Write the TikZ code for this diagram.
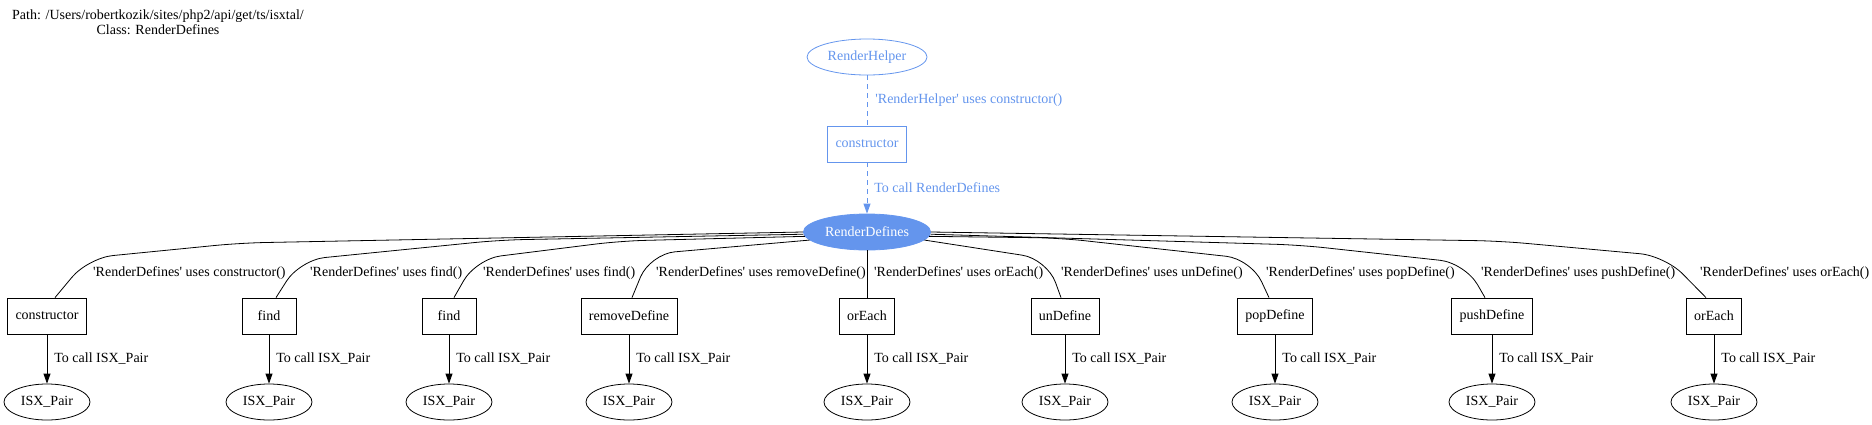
\documentclass[tikz,border=0pt]{standalone}
\usepackage{fontspec}
\setmainfont{Liberation Serif}
\usetikzlibrary{arrows.meta,positioning,shapes.geometric}
\definecolor{rdblue}{HTML}{6495ED}
\newcommand{\sq}{\textquotesingle}
\tikzset{
  fn/.style={draw, rectangle, minimum width=54pt, minimum height=36pt, inner xsep=8pt, line width=0.8pt},
  cls/.style={draw, ellipse, minimum height=36pt, inner xsep=3pt, line width=0.8pt},
  lbl/.style={anchor=west, inner sep=0pt},
  tip/.style={-{Triangle[length=10pt,width=7pt]}},
  arr/.style={tip, line width=0.8pt},
  use/.style={line width=0.8pt, rounded corners=25pt},
  dep/.style={rdblue, dash pattern=on 5pt off 4pt, line width=0.8pt},
}

\begin{document}
\begin{tikzpicture}[x=1pt, y=-1pt, font=\fontsize{14}{15}\selectfont]
  \useasboundingbox (0,0) rectangle (1872,424);
  \node[align=center, inner sep=0pt] (title) at (158,22.5) {Path: /Users/robertkozik/sites/php2/api/get/ts/isxtal/\\Class: RenderDefines};

  % caller chain
  \node[cls, draw=rdblue, text=rdblue, minimum width=120pt] (helper) at (867,57) {RenderHelper};
  \node[fn, draw=rdblue, text=rdblue] (ctor) at (867,144) {constructor};
  \node[cls, draw=rdblue, fill=rdblue, text=white] (rd) at (867,232) {RenderDefines};
  \draw[dep] (helper) -- node[lbl, text=rdblue, xshift=8pt] (lhelp) {\sq RenderHelper\sq{} uses constructor()} (ctor);
  \draw[dep, tip] (ctor) -- node[lbl, text=rdblue, xshift=7pt] (lctor) {To call RenderDefines} (rd);

  % called methods
  \foreach \n/\m/\x/\lx in {c1/constructor/47/93, f1/find/269/310, f2/find/449/483, rm/removeDefine/629/656,
      o1/orEach/867/874, un/unDefine/1065/1061, po/popDefine/1275/1266, pu/pushDefine/1492/1481, o2/orEach/1714/1700}{
    \node[fn] (\n) at (\x,316) {\m};
    \node[cls, minimum width=86pt] (p\n) at (\x,402) {ISX\_Pair};
    \node[lbl] (u\n) at (\lx,273) {\sq RenderDefines\sq{} uses \m()};
    \draw[arr] (\n) -- node[lbl, xshift=7pt] (t\n) {To call ISX\_Pair} (p\n);
  }

  \draw[use] (rd.180) -- (240,243) -- (88,258) -- ([xshift=8pt]c1.north);
  \draw[use] (rd.182) -- (500,240) -- (300,260) -- ([xshift=7pt]f1.north);
  \draw[use] (rd.184) -- (620,241) -- (476,259) -- ([xshift=5pt]f2.north);
  \draw[use] (rd.188) -- (650,254) -- ([xshift=3pt]rm.north);
  \draw[use] (rd) -- (o1);
  \draw[use] (rd.352) -- (1047,259) -- ([xshift=-4pt]un.north);
  \draw[use] (rd.356) -- (1060,238) -- (1251,259) -- ([xshift=-6pt]po.north);
  \draw[use] (rd.358) -- (1300,245) -- (1465,263) -- ([xshift=-7pt]pu.north);
  \draw[use] (rd.0) -- (1500,241) -- (1665,256) -- ([xshift=-8pt]o2.north);
\end{tikzpicture}
\end{document}
